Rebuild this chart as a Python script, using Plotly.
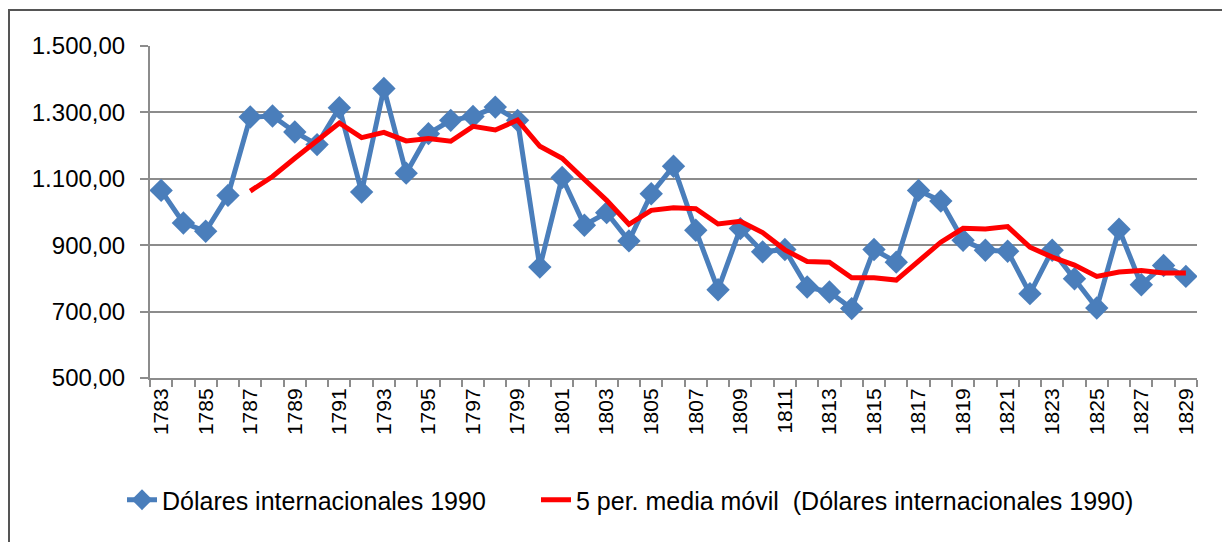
import plotly.graph_objects as go

years = [1783, 1784, 1785, 1786, 1787, 1788, 1789, 1790, 1791, 1792,
         1793, 1794, 1795, 1796, 1797, 1798, 1799, 1800, 1801, 1802,
         1803, 1804, 1805, 1806, 1807, 1808, 1809, 1810, 1811, 1812,
         1813, 1814, 1815, 1816, 1817, 1818, 1819, 1820, 1821, 1822,
         1823, 1824, 1825, 1826, 1827, 1828, 1829]

dolares = [1065, 967, 942, 1050, 1286, 1289, 1241, 1203, 1314, 1060,
           1372, 1117, 1236, 1276, 1288, 1316, 1276, 834, 1104, 960,
           998, 913, 1055, 1138, 945, 766, 950, 880, 887, 774,
           759, 709, 887, 849, 1065, 1033, 915, 885, 882, 754,
           885, 799, 711, 948, 781, 839, 806]

media_movil = [None, None, None, None, 1063, 1107, 1162, 1213, 1268, 1224,
               1240, 1214, 1221, 1213, 1258, 1247, 1277, 1198, 1162, 1098,
               1035, 963, 1005, 1013, 1010, 964, 972, 938, 886, 851,
               849, 802, 802, 795, 854, 909, 951, 949, 956, 894,
               864, 840, 806, 819, 824, 816, 816]

tick_years = [1783, 1785, 1787, 1789, 1791, 1793, 1795, 1797, 1799, 1801,
              1803, 1805, 1807, 1809, 1811, 1813, 1815, 1817, 1819, 1821,
              1823, 1825, 1827, 1829]
tick_labels = [str(y) for y in tick_years]

name_a = "Dólares internacionales 1990"
name_b = "5 per. media móvil  (Dólares internacionales 1990)"

GRID = "#8c8c8c"
FONT = "Liberation Sans"

fig = go.Figure()
fig.add_trace(go.Scatter(
    x=years, y=dolares, name=name_a, mode="lines+markers",
    line=dict(color="#4a7ebb", width=5),
    marker=dict(symbol="diamond", size=18, color="#4a7ebb"),
    legend="legend",
))
fig.add_trace(go.Scatter(
    x=years, y=media_movil, name=name_b, mode="lines",
    line=dict(color="#ff0000", width=5),
    connectgaps=False,
    legend="legend2",
))

# page has an 8px body margin: work in page pixels and convert
OFF = 8
W, H = 1230 - OFF, 542 - OFF
L, R, T, B = 150 - OFF, 33, 46 - OFF, 164
pw, ph = W - L - R, H - T - B

def px2paper_x(px):
    return (px - OFF - L) / pw

def px2paper_y(py):
    return (H - B - (py - OFF)) / ph

legend_common = dict(
    orientation="h",
    xanchor="left",
    y=px2paper_y(500), yanchor="middle",
    font=dict(family=FONT, size=25, color="black"),
    bgcolor="rgba(0,0,0,0)",
    itemwidth=30,
)

fig.update_layout(
    width=W, height=H,
    margin=dict(l=L, r=R, t=T, b=B, autoexpand=False),
    paper_bgcolor="white", plot_bgcolor="white",
    separators=",.",
    font=dict(family=FONT, color="black"),
    showlegend=True,
    legend=dict(x=px2paper_x(122), **legend_common),
    legend2=dict(x=px2paper_x(536), **legend_common),
    xaxis=dict(
        type="linear",
        range=[1782.5, 1829.5],
        tickmode="array", tickvals=tick_years, ticktext=tick_labels,
        tickangle=-90,
        ticks="", ticklen=0, showgrid=False,
        showline=True, linecolor=GRID, linewidth=2,
        tickfont=dict(family=FONT, size=21, color="black"),
        ticklabelstandoff=0,
        minor=dict(tick0=1782.5, dtick=1, ticks="outside", ticklen=7,
                   tickcolor=GRID, tickwidth=2, showgrid=False),
        zeroline=False,
        automargin=False,
    ),
    yaxis=dict(
        range=[500, 1500],
        tick0=500, dtick=200,
        tickformat=",.2f",
        ticks="outside", ticklen=8, tickcolor=GRID, tickwidth=2,
        showgrid=True, gridcolor=GRID, gridwidth=2,
        showline=True, linecolor=GRID, linewidth=2,
        tickfont=dict(family=FONT, size=24, color="black"),
        ticklabelstandoff=10,
        zeroline=False,
        automargin=False,
    ),
    shapes=[dict(
        type="rect", xref="paper", yref="paper",
        x0=px2paper_x(9), x1=px2paper_x(1240),
        y0=px2paper_y(560), y1=px2paper_y(10),
        line=dict(color="#555555", width=2),
        fillcolor="rgba(0,0,0,0)", layer="below",
    )],
)

fig.write_html("out.html")
